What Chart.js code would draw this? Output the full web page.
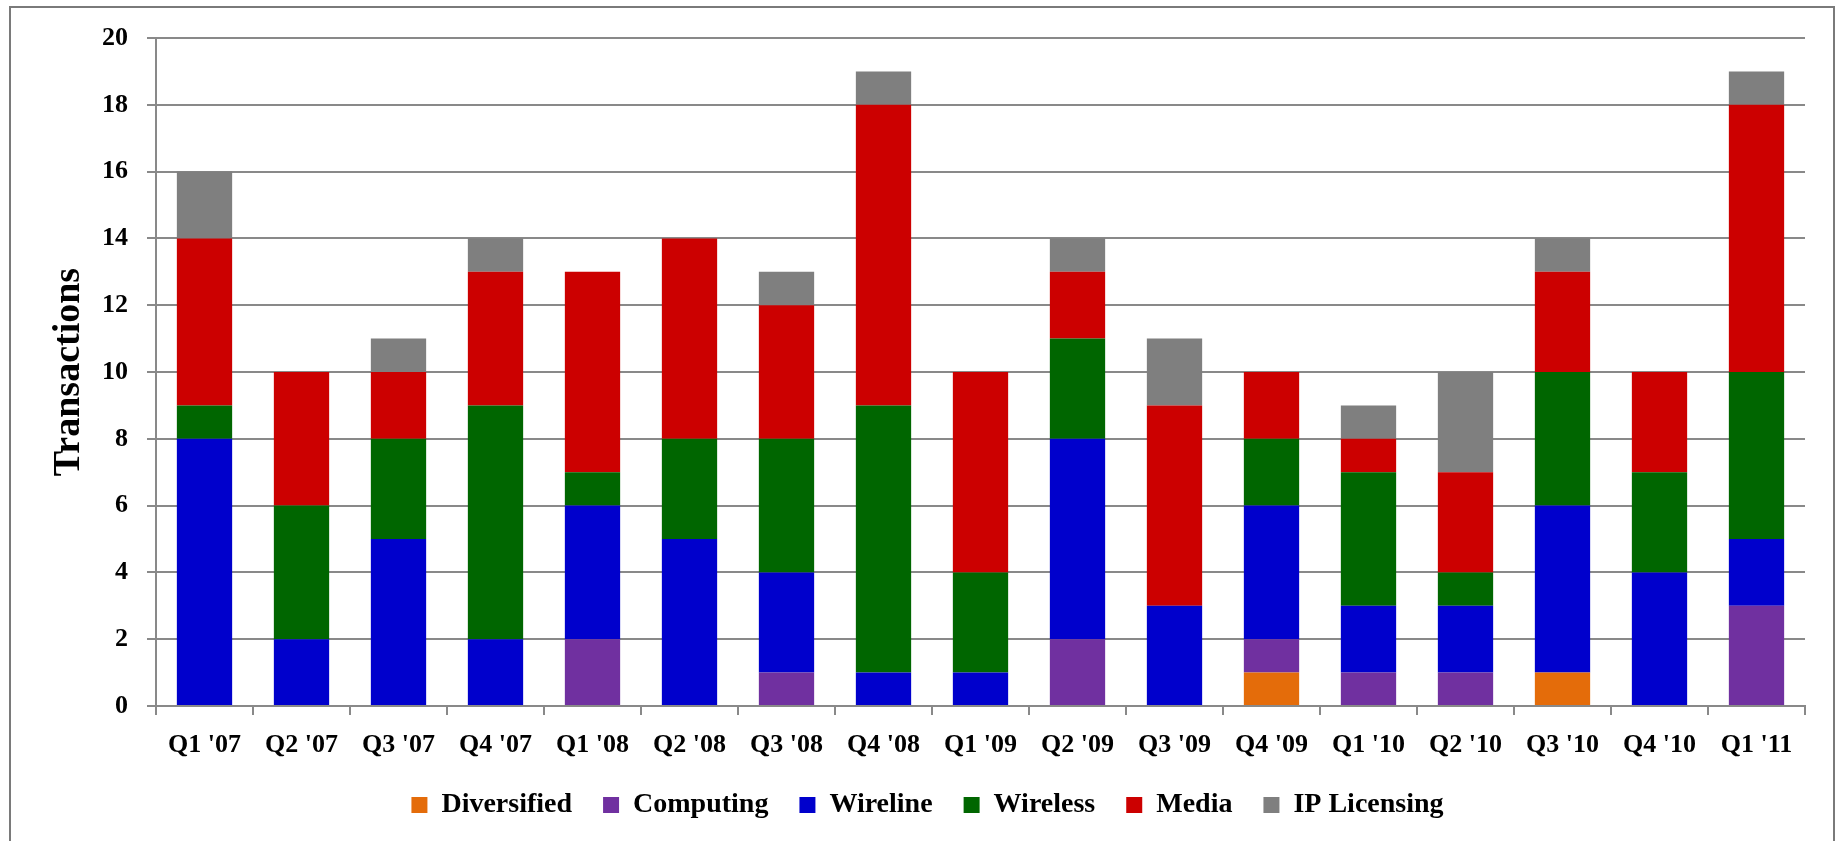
<!DOCTYPE html>
<html>
<head>
<meta charset="utf-8">
<title>Transactions by sector</title>
<script src="https://cdn.jsdelivr.net/npm/chart.js@4/dist/chart.umd.min.js"></script>
<style>
  html, body { margin: 0; padding: 0; background: #ffffff; overflow: hidden; }
  canvas { display: block; }
</style>
</head>
<body>
<canvas id="chart" width="1839" height="841"></canvas>
<script>
// Quarterly transaction counts by sector (stacked bottom to top)
const quarters = ["Q1 '07", "Q2 '07", "Q3 '07", "Q4 '07", "Q1 '08", "Q2 '08", "Q3 '08", "Q4 '08",
                  "Q1 '09", "Q2 '09", "Q3 '09", "Q4 '09", "Q1 '10", "Q2 '10", "Q3 '10", "Q4 '10", "Q1 '11"];
const diversified = [0, 0, 0, 0, 0, 0, 0, 0, 0, 0, 0, 1, 0, 0, 1, 0, 0];
const computing   = [0, 0, 0, 0, 2, 0, 1, 0, 0, 2, 0, 1, 1, 1, 0, 0, 3];
const wireline    = [8, 2, 5, 2, 4, 5, 3, 1, 1, 6, 3, 4, 2, 2, 5, 4, 2];
const wireless    = [1, 4, 3, 7, 1, 3, 4, 8, 3, 3, 0, 2, 4, 1, 4, 3, 5];
const media       = [5, 4, 2, 4, 6, 6, 4, 9, 6, 2, 6, 2, 1, 3, 3, 3, 8];
const ipLicensing = [2, 0, 1, 1, 0, 0, 1, 1, 0, 1, 2, 0, 1, 3, 1, 0, 1];

const seriesNames = ["Diversified", "Computing", "Wireline", "Wireless", "Media", "IP Licensing"];
const seriesData = [diversified, computing, wireline, wireless, media, ipLicensing];
const seriesColors = ["#E46C0A", "#7030A0", "#0000CC", "#006600", "#CC0000", "#7F7F7F"];

const yTickMin = 0;
const yTickMax = 20;
const yTickStep = 2;
const yTitle = "Transactions";

const FONT = "'Liberation Serif', 'Times New Roman', serif";
const AXIS_GRAY = "#898989";

// Frame drawn around the whole chart
const framePlugin = {
  id: 'frame',
  beforeDraw(chart) {
    const ctx = chart.ctx;
    ctx.save();
    ctx.fillStyle = '#ffffff';
    ctx.fillRect(0, 0, chart.width, chart.height);
    ctx.strokeStyle = '#7a7a7a';
    ctx.lineWidth = 2;
    ctx.strokeRect(10, 7, 1824, 900);
    ctx.restore();
  }
};

// Nudge the legend so it sits centred under the framed area
const legendShift = {
  id: 'legendShift',
  afterLayout(chart) {
    const lg = chart.legend;
    if (lg) { lg.left += 18; lg.right += 18; }
  }
};

new Chart(document.getElementById('chart'), {
  type: 'bar',
  data: {
    labels: quarters,
    datasets: seriesNames.map((name, i) => ({
      label: name,
      data: seriesData[i],
      backgroundColor: seriesColors[i],
      borderWidth: 0,
      barPercentage: 0.57,
      categoryPercentage: 1.0
    }))
  },
  plugins: [framePlugin, legendShift],
  options: {
    responsive: false,
    devicePixelRatio: 1,
    animation: false,
    layout: { padding: { left: 14, top: 38, right: 34, bottom: 17 } },
    plugins: {
      tooltip: { enabled: false },
      legend: {
        position: 'bottom',
        maxHeight: 64,
        labels: {
          boxWidth: 16,
          boxHeight: 16,
          padding: 31,
          color: '#000000',
          font: { family: FONT, size: 28, weight: 'bold' }
        }
      }
    },
    scales: {
      x: {
        stacked: true,
        offset: true,
        afterFit(scale) { scale.height = 54; },
        grid: {
          display: true,
          offset: true,
          drawOnChartArea: false,
          drawTicks: true,
          tickLength: 9,
          color: AXIS_GRAY,
          lineWidth: 2
        },
        border: { display: true, color: AXIS_GRAY, width: 2 },
        ticks: {
          padding: 15,
          maxRotation: 0,
          autoSkip: false,
          color: '#000000',
          font: { family: FONT, size: 26, weight: 'bold' }
        }
      },
      y: {
        stacked: true,
        min: yTickMin,
        max: yTickMax,
        afterFit(scale) { scale.width = 142; },
        grid: {
          color: AXIS_GRAY,
          lineWidth: 2,
          drawTicks: true,
          tickLength: 9
        },
        border: { display: true, color: AXIS_GRAY, width: 2 },
        ticks: {
          stepSize: yTickStep,
          padding: 19,
          color: '#000000',
          font: { family: FONT, size: 26, weight: 'bold' }
        },
        title: {
          display: true,
          text: yTitle,
          color: '#000000',
          padding: { top: 32, bottom: 0 },
          font: { family: FONT, size: 38, weight: 'bold' }
        }
      }
    }
  }
});
</script>
</body>
</html>
